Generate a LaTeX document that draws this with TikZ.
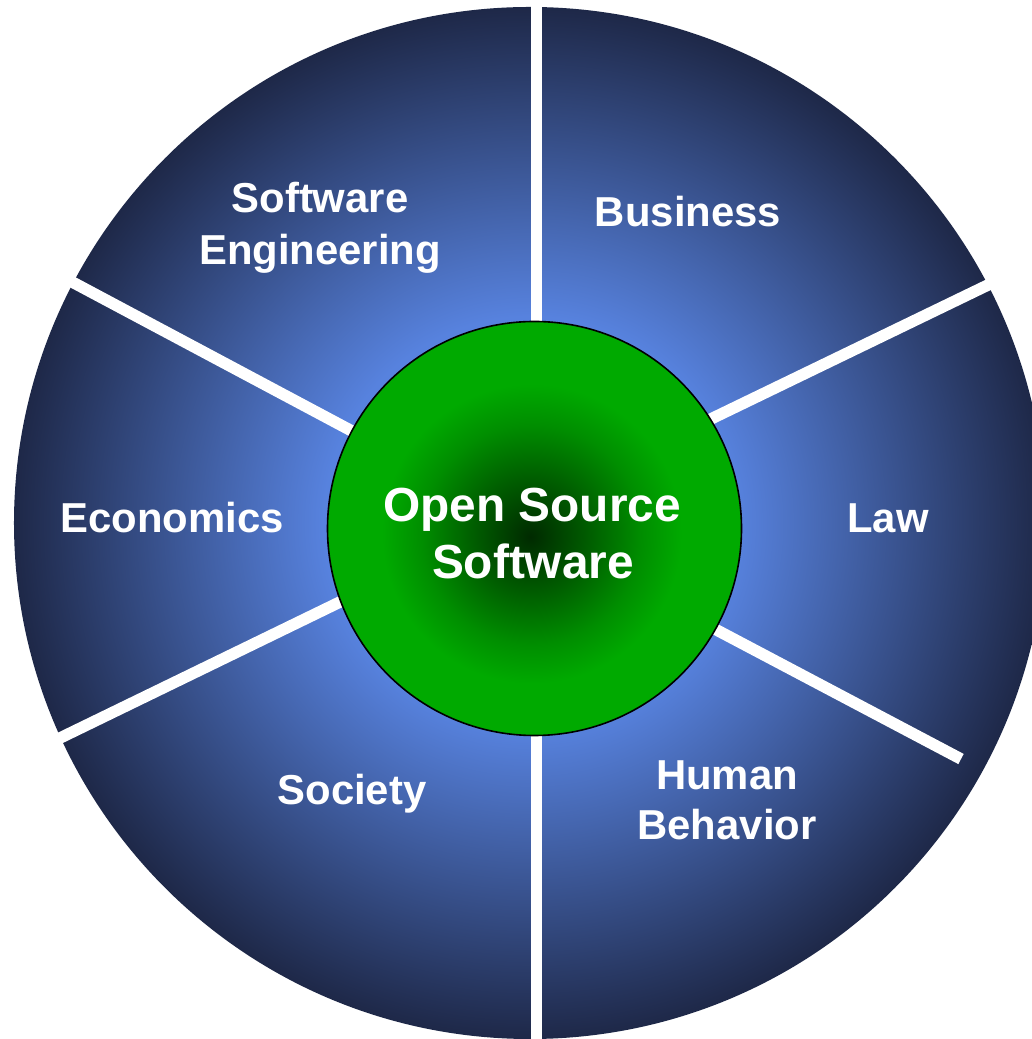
\documentclass[tikz,border=0pt]{standalone}
\usepackage{fontspec}
\setmainfont{Liberation Sans}
\definecolor{secinner}{HTML}{5782DE}
\definecolor{secouter}{HTML}{1E2848}
\definecolor{gdark}{HTML}{002A00}
\definecolor{gmid}{HTML}{005F00}
\definecolor{gmid2}{HTML}{008E00}
\definecolor{gbright}{HTML}{00AA00}
\pgfdeclareradialshading{sectorshade}{\pgfpoint{0bp}{0bp}}{%
  color(0bp)=(secinner); color(10bp)=(secinner); color(25bp)=(secouter); color(50bp)=(secouter)}
\pgfdeclareradialshading{greenshade}{\pgfpoint{-0.5bp}{-1bp}}{%
  color(0bp)=(gdark); color(7.2bp)=(gmid); color(13.3bp)=(gmid2); color(18.1bp)=(gbright); color(50bp)=(gbright)}
\begin{document}
\begin{tikzpicture}[x=1bp,y=1bp,
  lbl/.style={text=white,font=\fontsize{42}{52}\selectfont\bfseries,inner sep=0pt,anchor=base},
  biglbl/.style={text=white,font=\fontsize{48}{57}\selectfont\bfseries,inner sep=0pt,anchor=base},
  sepline/.style={draw=white,line width=11.5bp,line cap=butt}]
\useasboundingbox (0,0) rectangle (1032,1039);
\clip (0,0) rectangle (1032,1039);
\fill[white] (0,0) rectangle (1032,1039);
% big disc
\coordinate (bc) at (530,516);
\coordinate (ic) at (534.5,510.5);
\path[shading=sectorshade] (bc) circle [radius=516bp];
% separators
\coordinate (t1) at (536.5,1050); \coordinate (t2) at (536.5,511);
\coordinate (b1) at (536.5,-10);  \coordinate (b2) at (536.5,511);
\coordinate (ur1) at (660,595.4); \coordinate (ur2) at (1000,759.8);
\coordinate (lr1) at (650,444.2); \coordinate (lr2) at (961,280);
\coordinate (ul1) at (420,571.7); \coordinate (ul2) at (60,763.5);
\coordinate (ll1) at (420,475.9); \coordinate (ll2) at (50,296.1);
\draw[sepline] (t2) -- (t1);
\draw[sepline] (b2) -- (b1);
\draw[sepline] (ur1) -- (ur2);
\draw[sepline] (lr1) -- (lr2);
\draw[sepline] (ul1) -- (ul2);
\draw[sepline] (ll1) -- (ll2);
% centre disc
\node[circle,draw=black,line width=1.6bp,minimum size=414bp,inner sep=0pt,shading=greenshade] (oss) at (ic) {};
\node[biglbl] (oss1) at (532,517) {Open Source};
\node[biglbl] (oss2) at (533,460) {Software};
% sector labels
\node[lbl] (se1) at (320,826) {Software};
\node[lbl] (se2) at (320,774) {Engineering};
\node[lbl] (bus) at (688,812) {Business};
\node[lbl] (eco) at (172,506) {Economics};
\node[lbl] (law) at (888,506) {Law};
\node[lbl] (soc) at (352,234) {Society};
\node[lbl] (hb1) at (727,249) {Human};
\node[lbl] (hb2) at (727,199) {Behavior};
\end{tikzpicture}
\end{document}
